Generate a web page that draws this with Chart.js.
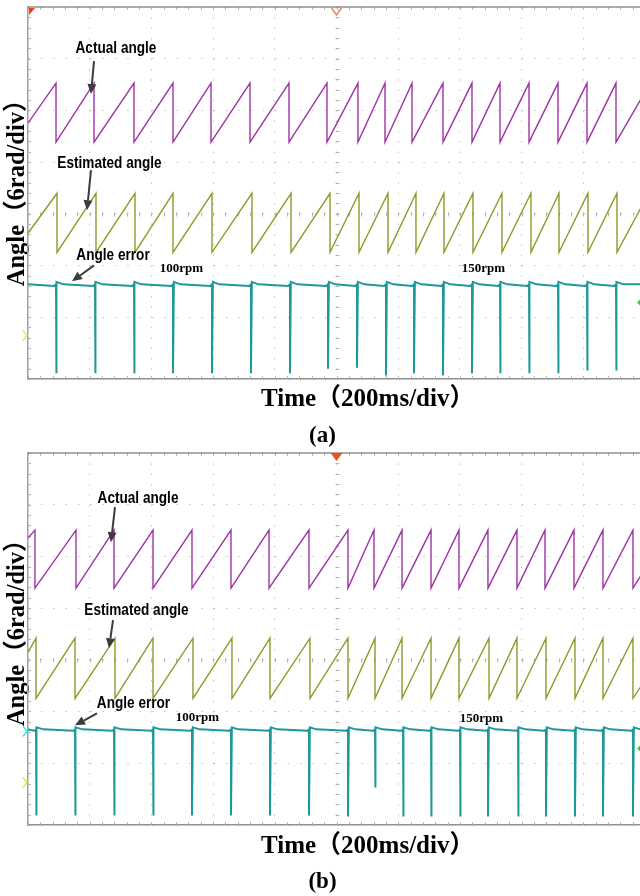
<!DOCTYPE html>
<html><head><meta charset="utf-8">
<script src="https://cdn.jsdelivr.net/npm/chart.js@4.4.1/dist/chart.umd.min.js"></script>
<style>
html,body{margin:0;padding:0;width:640px;height:896px;overflow:hidden;background:#fff;}
.wrap{position:absolute;left:0;width:652px;height:448px;}
#wa{top:0}
#wb{top:448px}
</style></head><body>
<div class="wrap" id="wa"><canvas id="ca"></canvas></div>
<div class="wrap" id="wb"><canvas id="cb"></canvas></div>
<script>
// ===== Data (x in time divisions 0..10, y in vertical divisions) =====
// Panel (a)
const actualA_drops = [0.454,1.070,1.718,2.350,2.966,3.598,4.230,4.846,5.348,5.786,6.224,6.726,7.196,7.650,8.120,8.590,9.060,9.530];
const actualA_levels = [4.752, 5.527, 4.384, 5.353];           // start, peak, trough, end
const estA_drops = [0.470,1.102,1.734,2.350,2.982,3.630,4.263,4.895,5.365,5.835,6.288,6.742,7.212,7.682,8.152,8.606,9.076,9.546];
const estA_levels = [2.620, 3.395, 2.252, 3.260];
const errA_spikes = [0.454,1.086,1.718,2.350,2.982,3.614,4.246,4.862,5.332,5.802,6.256,6.726,7.196,7.650,8.120,8.590,9.060,9.530];
const errA_depth = [-0.09,-0.09,-0.09,-0.09,-0.09,-0.09,-0.09,0.00,0.02,-0.13,-0.09,-0.13,-0.09,-0.09,-0.09,-0.09,-0.035,-0.035];
const errA_levels = [1.632, 1.680, 1.600];                      // baseline, after-spike bump, pre-spike

// Panel (b)
const actualB_drops = [0.113,0.778,1.394,2.026,2.658,3.290,3.906,4.554,5.186,5.608,6.062,6.532,6.985,7.455,7.925,8.379,8.849,9.319,9.805];
const actualB_levels = [5.353, 5.508, 4.384, 4.750];
const estB_drops = [0.130,0.762,1.410,2.026,2.674,3.306,3.922,4.570,5.186,5.624,6.062,6.532,6.985,7.472,7.925,8.395,8.865,9.319,9.805];
const estB_levels = [3.143, 3.415, 2.252, 2.601];
const errB_spikes = [0.130,0.762,1.394,2.026,2.658,3.290,3.922,4.554,5.186,5.624,6.078,6.532,7.002,7.455,7.942,8.395,8.865,9.319,9.805];
const errB_depth = [-0.016,-0.016,-0.016,-0.016,-0.016,-0.016,-0.016,-0.016,-0.035,0.527,-0.035,-0.035,-0.035,-0.035,-0.035,-0.035,-0.035,-0.035,-0.035];
const errB_levels = [1.651, 1.690, 1.625];

// Annotation texts and their positions (data units)
const noteTexts = ['Actual angle','Estimated angle','Angle error','100rpm','150rpm'];
const notePosA = [[1.426,6.205],[1.321,3.977],[1.378,2.194],[2.488,1.942],[7.382,1.942]];
const notePosB = [[1.783,6.128],[1.758,3.957],[1.710,2.155],[2.747,1.884],[7.350,1.864]];
const arrowsA = [[1.070,5.953,1.021,5.314],[1.021,3.841,0.956,3.066],[1.070,2.000,0.713,1.690]];
const arrowsB = [[1.410,5.953,1.345,5.275],[1.378,3.764,1.313,3.221],[1.118,1.961,0.762,1.729]];

const EN = '\u2002';
const xTitle = EN.repeat(5) + 'Time（200ms/div）';
const yTitleA = '  Angle（6rad/div）';
const yTitleB = '    Angle（6rad/div）';
const panelTitles = ['(a)','(b)'];

const COL_ACT = '#a034a6', COL_EST = '#8e9a28', COL_ERR = '#1f9898';
const SERIF = "'Liberation Serif','Noto Sans CJK SC',serif";
const NARROW = "'Liberation Sans',Arial,sans-serif";

function sawtooth(drops, lv){
  const pts=[{x:0,y:lv[0]}];
  drops.forEach(t=>{pts.push({x:t,y:lv[1]});pts.push({x:t,y:lv[2]});});
  pts.push({x:10,y:lv[3]});
  return pts;
}
function errTrace(spikes, depth, lv){
  const pts=[{x:0,y:lv[0]}];
  spikes.forEach((t,i)=>{
    pts.push({x:t-0.03,y:lv[2]});
    pts.push({x:t,y:lv[0]});
    pts.push({x:t,y:depth[i]});
    pts.push({x:t+0.014,y:lv[1]});
    pts.push({x:t+0.12,y:lv[0]});
  });
  pts.push({x:10,y:lv[0]});
  return pts;
}

function overlay(pos, arrows, markers){
  return {
    id:'scopeOverlay',
    beforeDatasetsDraw(chart){
      const {ctx, chartArea:a, scales:{x,y}} = chart;
      ctx.save();
      ctx.strokeStyle='#b4b4b4'; ctx.lineWidth=1;
      ctx.beginPath();
      const cy = y.getPixelForValue(3), cx = x.getPixelForValue(5);
      for(let i=0;i<=50;i++){
        const px=Math.round(x.getPixelForValue(i/5))+0.5;
        ctx.moveTo(px,a.top); ctx.lineTo(px,a.top+3);
        ctx.moveTo(px,a.bottom); ctx.lineTo(px,a.bottom-3);
        ctx.moveTo(px,Math.round(cy)-1.5); ctx.lineTo(px,Math.round(cy)+2.5);
      }
      for(let j=-1;j<=35;j++){
        const py=Math.round(y.getPixelForValue(j/5))+0.5;
        if(py>a.bottom) continue;
        ctx.moveTo(a.left,py); ctx.lineTo(a.left+3,py);
        ctx.moveTo(Math.round(cx)-1.5,py); ctx.lineTo(Math.round(cx)+2.5,py);
      }
      ctx.stroke();
      ctx.strokeStyle='#8f8f8f'; ctx.lineWidth=1.5;
      ctx.beginPath(); ctx.moveTo(a.left,a.top); ctx.lineTo(a.right+10,a.top); ctx.stroke();
      ctx.restore();
    },
    afterDatasetsDraw(chart){
      const {ctx, chartArea:a, scales:{x,y}} = chart;
      ctx.save();
      // arrows
      ctx.strokeStyle='#3c3c3c'; ctx.fillStyle='#3c3c3c'; ctx.lineWidth=2;
      arrows.forEach(ar=>{
        const x1=x.getPixelForValue(ar[0]), y1=y.getPixelForValue(ar[1]);
        const x2=x.getPixelForValue(ar[2]), y2=y.getPixelForValue(ar[3]);
        const ang=Math.atan2(y2-y1,x2-x1), L=10, W=4.5;
        const bx=x2-L*Math.cos(ang), by=y2-L*Math.sin(ang);
        ctx.beginPath(); ctx.moveTo(x1,y1); ctx.lineTo(bx,by); ctx.stroke();
        ctx.beginPath(); ctx.moveTo(x2,y2);
        ctx.lineTo(bx+W*Math.sin(ang), by-W*Math.cos(ang));
        ctx.lineTo(bx-W*Math.sin(ang), by+W*Math.cos(ang));
        ctx.closePath(); ctx.fill();
      });
      // texts
      ctx.fillStyle='#000'; ctx.textAlign='center'; ctx.textBaseline='middle';
      noteTexts.forEach((t,i)=>{
        const px=x.getPixelForValue(pos[i][0]), py=y.getPixelForValue(pos[i][1]);
        if(i<3){
          ctx.save(); ctx.translate(px,py); ctx.scale(0.8,1);
          ctx.font = "bold 17px "+NARROW; ctx.fillText(t,0,0); ctx.restore();
        } else {
          ctx.font = "bold 13px "+SERIF; ctx.fillText(t,px,py);
        }
      });
      // scope markers
      markers.forEach(m=>{
        const px = m.x==='L'? a.left : m.x==='R' ? a.right : x.getPixelForValue(m.x);
        const py = m.y==='T'? a.top : y.getPixelForValue(m.y);
        ctx.fillStyle=m.c; ctx.strokeStyle=m.c; ctx.lineWidth=1.5;
        ctx.beginPath();
        if(m.k==='corner'){ ctx.moveTo(px+1,py+1); ctx.lineTo(px+7,py+1); ctx.lineTo(px+1,py+8); ctx.closePath(); ctx.fill(); }
        else if(m.k==='vOpen'){ ctx.moveTo(px-5,py+1); ctx.lineTo(px,py+8); ctx.lineTo(px+5,py+1); ctx.stroke(); }
        else if(m.k==='vFill'){ ctx.moveTo(px-6,py); ctx.lineTo(px+6,py); ctx.lineTo(px,py+8); ctx.closePath(); ctx.fill(); }
        else if(m.k==='diamond'){ ctx.moveTo(px-8,py); ctx.lineTo(px-2,py-6); ctx.lineTo(px+4,py); ctx.lineTo(px-2,py+6); ctx.closePath(); ctx.fill(); }
        else if(m.k==='left'){ ctx.moveTo(px-5,py-5); ctx.lineTo(px-1,py); ctx.lineTo(px-5,py+5); ctx.stroke(); }
      });
      ctx.restore();
    }
  };
}

function makeChart(id, datasets, cfg){
  return new Chart(document.getElementById(id), {
    type:'line',
    data:{datasets},
    options:{
      responsive:true, maintainAspectRatio:false, animation:false, events:[],
      layout:{padding:{top:cfg.padTop,right:7,left:0,bottom:0}},
      elements:{point:{radius:0}, line:{tension:0}},
      plugins:{
        legend:{display:false}, tooltip:{enabled:false},
        title:{display:true, position:'bottom', text:cfg.title, color:'#000',
               font:{family:SERIF,size:23,weight:'bold',lineHeight:1.0}, padding:{top:0,bottom:cfg.titlePadB}}
      },
      scales:{
        x:{type:'linear', min:0, max:10,
           ticks:{display:false, stepSize:1},
           grid:{color:'#c4c4c4', lineWidth:1, drawTicks:false},
           border:{display:true, color:'#8f8f8f', width:1.5, dash:[1.5,8.82]},
           title:{display:true, text:xTitle, color:'#000', font:{family:SERIF,size:25,weight:'bold',lineHeight:1.2}, padding:{top:0,bottom:cfg.xTitlePadB}},
           afterFit(s){ s.height = 46; }},
        y:{type:'linear', min:-0.2, max:7,
           ticks:{display:false, stepSize:1},
           grid:{color:'#c4c4c4', lineWidth:1, drawTicks:false},
           border:{display:true, color:'#a0a0a0', width:1.5, dash:[1.5,10.84]},
           title:{display:true, text:cfg.yTitle, color:'#000', font:{family:SERIF,size:24.5,weight:'bold',lineHeight:1.2}, padding:{top:3,bottom:0}},
           afterFit(s){ s.width = 28; }}
      }
    },
    plugins:[overlay(cfg.pos, cfg.arrows, cfg.markers)]
  });
}

function ds(data,color,w){ return {data, borderColor:color, borderWidth:w, fill:false, pointRadius:0}; }

makeChart('ca', [
  ds(sawtooth(actualA_drops, actualA_levels), COL_ACT, 1.4),
  ds(sawtooth(estA_drops, estA_levels), COL_EST, 1.4),
  ds(errTrace(errA_spikes, errA_depth, errA_levels), COL_ERR, 2)
], {padTop:7, title:panelTitles[0], titlePadB:0, xTitlePadB:10, yTitle:yTitleA, pos:notePosA, arrows:arrowsA,
    markers:[{k:'corner',x:'L',y:'T',c:'#f04010'},{k:'vOpen',x:5,y:'T',c:'#f08060'},{k:'diamond',x:'R',y:1.283,c:'#30d030'},{k:'left',x:'L',y:0.643,c:'#f0e060'}]});

makeChart('cb', [
  ds(sawtooth(actualB_drops, actualB_levels), COL_ACT, 1.4),
  ds(sawtooth(estB_drops, estB_levels), COL_EST, 1.4),
  ds(errTrace(errB_spikes, errB_depth, errB_levels), COL_ERR, 2)
], {padTop:5, title:panelTitles[1], titlePadB:2, xTitlePadB:9, yTitle:yTitleB, pos:notePosB, arrows:arrowsB,
    markers:[{k:'vFill',x:5,y:'T',c:'#f05020'},{k:'diamond',x:'R',y:1.283,c:'#30d030'},{k:'left',x:'L',y:1.612,c:'#30e0f0'},{k:'left',x:'L',y:0.624,c:'#f0e040'}]});
</script>
</body></html>
